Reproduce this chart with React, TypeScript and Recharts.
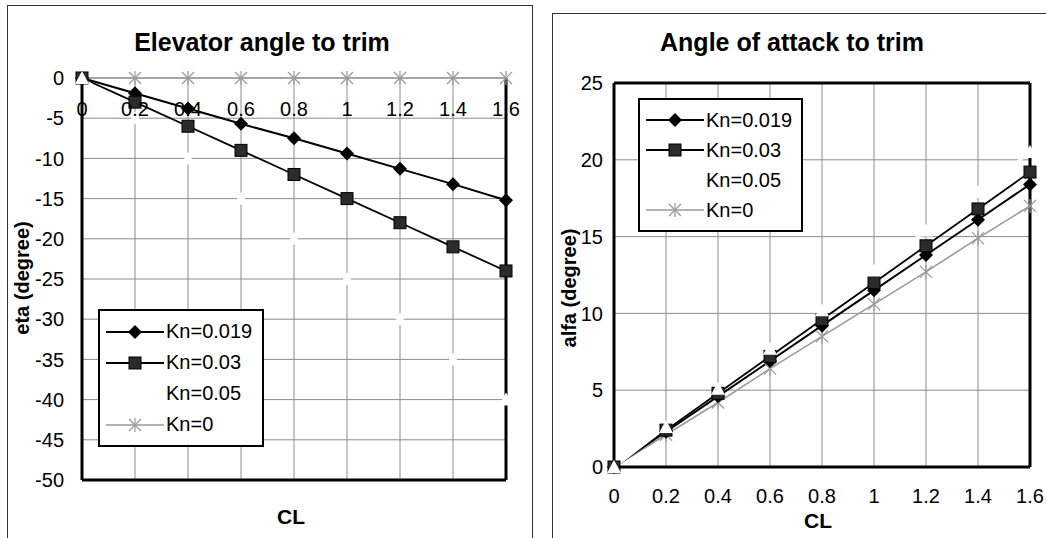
import React from 'react'
import { LineChart, Line, XAxis, YAxis, CartesianGrid, ReferenceLine } from 'recharts'

const clValues = [0, 0.2, 0.4, 0.6, 0.8, 1, 1.2, 1.4, 1.6]
const seriesNames = ['Kn=0.019', 'Kn=0.03', 'Kn=0.05', 'Kn=0']

// elevator angle (eta) in degrees
const etaKn019 = [0, -1.9, -3.8, -5.7, -7.5, -9.4, -11.3, -13.2, -15.2]
const etaKn03 = [0, -3, -6, -9, -12, -15, -18, -21, -24]
const etaKn05 = [0, -5, -10, -15, -20, -25, -30, -35, -40]
const etaKn0 = [0, 0, 0, 0, 0, 0, 0, 0, 0]
const etaTicks = [0, -5, -10, -15, -20, -25, -30, -35, -40, -45, -50]

// angle of attack (alfa) in degrees
const alfaKn019 = [0, 2.3, 4.6, 6.9, 9.2, 11.5, 13.8, 16.1, 18.4]
const alfaKn03 = [0, 2.4, 4.8, 7.2, 9.6, 12.0, 14.4, 16.8, 19.2]
const alfaKn05 = [0, 2.6, 5.1, 7.7, 10.2, 12.8, 15.4, 17.9, 20.5]
const alfaKn0 = [0, 2.1, 4.2, 6.4, 8.5, 10.6, 12.7, 14.9, 17.0]
const alfaTicks = [0, 5, 10, 15, 20, 25]

const etaData = clValues.map((cl, i) => ({
  cl, k019: etaKn019[i], k03: etaKn03[i], k05: etaKn05[i], k0: etaKn0[i],
}))
const alfaData = clValues.map((cl, i) => ({
  cl, k019: alfaKn019[i], k03: alfaKn03[i], k05: alfaKn05[i], k0: alfaKn0[i],
}))

const FONT = '"Liberation Sans", Arial, sans-serif'
const GRAY = '#9a9a9a'
const TICK_SIZE = 20

const Diamond = ({ cx, cy }: any) => (
  <polygon points={`${cx},${cy - 7} ${cx + 7},${cy} ${cx},${cy + 7} ${cx - 7},${cy}`} fill="#000" />
)
const Square = ({ cx, cy }: any) => (
  <rect x={cx - 6} y={cy - 6} width={12} height={12} fill="#2b2b2b" stroke="#000" strokeWidth={1} />
)
const WhiteMark = ({ cx, cy }: any) => (
  <polygon points={`${cx},${cy - 7} ${cx + 7},${cy + 6} ${cx - 7},${cy + 6}`} fill="#fff" />
)
const Star = ({ cx, cy }: any) => (
  <g stroke={GRAY} strokeWidth={1.2}>
    <line x1={cx - 6} y1={cy - 6} x2={cx + 6} y2={cy + 6} />
    <line x1={cx - 6} y1={cy + 6} x2={cx + 6} y2={cy - 6} />
    <line x1={cx} y1={cy - 7} x2={cx} y2={cy + 7} />
  </g>
)

const markers = [Diamond, Square, WhiteMark, Star]
const lineStyles = [
  { stroke: '#000', width: 2 },
  { stroke: '#000', width: 1.8 },
  { stroke: '#fff', width: 3 },
  { stroke: GRAY, width: 1.6 },
]

function dotFn(Marker: any, name: string) {
  return (p: any) => <Marker key={`${name}-${p.index}`} cx={p.cx} cy={p.cy} />
}

// tick renderers with explicit font size
const XTick = (p: any) => (
  <text x={p.x} y={p.y} dy="0.71em" textAnchor="middle" fontSize={TICK_SIZE} fontFamily={FONT} fill="#000">
    {p.payload.value}
  </text>
)
const YTick = (p: any) => (
  <text x={p.x} y={p.y} dy="0.36em" textAnchor="end" fontSize={TICK_SIZE} fontFamily={FONT} fill="#000">
    {p.payload.value}
  </text>
)

function Series() {
  // gray first, white last so it sits on top like the original
  return [
    <Line key="k0" dataKey="k0" stroke={GRAY} strokeWidth={1.6} dot={dotFn(Star, 'k0')} isAnimationActive={false} />,
    <Line key="k019" dataKey="k019" stroke="#000" strokeWidth={2} dot={dotFn(Diamond, 'k019')} isAnimationActive={false} />,
    <Line key="k03" dataKey="k03" stroke="#000" strokeWidth={1.8} dot={dotFn(Square, 'k03')} isAnimationActive={false} />,
    <Line key="k05" dataKey="k05" stroke="#fff" strokeWidth={3} dot={dotFn(WhiteMark, 'k05')} isAnimationActive={false} />,
  ]
}

function LegendBox({ left, top, width, rowGap }: any) {
  return (
    <div style={{
      position: 'absolute', left, top, width, border: '2px solid #000', background: '#fff',
      padding: '5px 0', boxSizing: 'border-box',
    }}>
      {seriesNames.map((name, i) => {
        const M = markers[i]
        const ls = lineStyles[i]
        return (
          <div key={name} style={{ display: 'flex', alignItems: 'center', height: rowGap }}>
            <svg width={62} height={20} style={{ marginLeft: 4 }}>
              <line x1={2} y1={10} x2={60} y2={10} stroke={ls.stroke} strokeWidth={ls.width} />
              <M cx={31} cy={10} />
            </svg>
            <span style={{ fontSize: 20, marginLeft: 0, whiteSpace: 'nowrap' }}>{name}</span>
          </div>
        )
      })}
    </div>
  )
}

export default function App() {
  return (
    <div style={{
      position: 'absolute', left: 0, top: 0, width: 1046, height: 538, background: '#fff',
      overflow: 'hidden', fontFamily: FONT, color: '#000',
    }}>
      {/* frames */}
      <div style={{ position: 'absolute', left: 7, top: 5, width: 524, height: 560, border: '1px solid #333' }} />
      <div style={{ position: 'absolute', left: 552, top: 13, width: 520, height: 560, border: '1px solid #333' }} />

      <div style={{ position: 'absolute', left: 0, top: 0 }}>
        <LineChart width={531} height={538} data={etaData} margin={{ top: 78, left: 42, right: 25, bottom: 58 }}>
          <CartesianGrid stroke="#8c8c8c" strokeWidth={1} />
          <XAxis dataKey="cl" type="number" domain={[0, 1.6]} ticks={clValues} orientation="top" mirror
            axisLine={false} tickLine={false} tickMargin={18} tick={XTick} interval={0} />
          <YAxis type="number" domain={[-50, 0]} ticks={etaTicks} width={40} axisLine={false} tickLine={false}
            tickMargin={12} tick={YTick} interval={0} />
          <ReferenceLine x={0} stroke="#000" strokeWidth={3} />
          <ReferenceLine x={1.6} stroke="#000" strokeWidth={3} />
          <ReferenceLine y={-50} stroke="#000" strokeWidth={3} />
          {Series()}
        </LineChart>
      </div>

      <div style={{ position: 'absolute', left: 0, top: 0 }}>
        <LineChart width={1046} height={538} data={alfaData} margin={{ top: 83, left: 574, right: 16, bottom: 21 }}>
          <CartesianGrid stroke="#8c8c8c" strokeWidth={1} />
          <XAxis dataKey="cl" type="number" domain={[0, 1.6]} ticks={clValues} height={50}
            axisLine={false} tickLine={false} tickMargin={16} tick={XTick} interval={0} />
          <YAxis type="number" domain={[0, 25]} ticks={alfaTicks} width={40} axisLine={false} tickLine={false}
            tickMargin={5} tick={YTick} interval={0} />
          <ReferenceLine x={0} stroke="#000" strokeWidth={3} />
          <ReferenceLine x={1.6} stroke="#000" strokeWidth={3} />
          <ReferenceLine y={0} stroke="#000" strokeWidth={3} />
          <ReferenceLine y={25} stroke="#000" strokeWidth={3} />
          {Series()}
        </LineChart>
      </div>

      <LegendBox left={98} top={309} width={166} rowGap={31} />
      <LegendBox left={638} top={98} width={165} rowGap={30} />

      {/* titles and axis labels */}
      <div style={{ position: 'absolute', left: 262, top: 42, transform: 'translate(-50%,-50%)', fontSize: 25, fontWeight: 'bold', whiteSpace: 'nowrap' }}>
        Elevator angle to trim
      </div>
      <div style={{ position: 'absolute', left: 792, top: 42, transform: 'translate(-50%,-50%)', fontSize: 25, fontWeight: 'bold', whiteSpace: 'nowrap' }}>
        Angle of attack to trim
      </div>
      <div style={{ position: 'absolute', left: 22, top: 278, transform: 'translate(-50%,-50%) rotate(-90deg)', fontSize: 20, fontWeight: 'bold', whiteSpace: 'nowrap' }}>
        eta (degree)
      </div>
      <div style={{ position: 'absolute', left: 569, top: 288, transform: 'translate(-50%,-50%) rotate(-90deg)', fontSize: 20, fontWeight: 'bold', whiteSpace: 'nowrap' }}>
        alfa (degree)
      </div>
      <div style={{ position: 'absolute', left: 291, top: 517, transform: 'translate(-50%,-50%)', fontSize: 21, fontWeight: 'bold' }}>
        CL
      </div>
      <div style={{ position: 'absolute', left: 818, top: 521, transform: 'translate(-50%,-50%)', fontSize: 21, fontWeight: 'bold' }}>
        CL
      </div>
    </div>
  )
}
